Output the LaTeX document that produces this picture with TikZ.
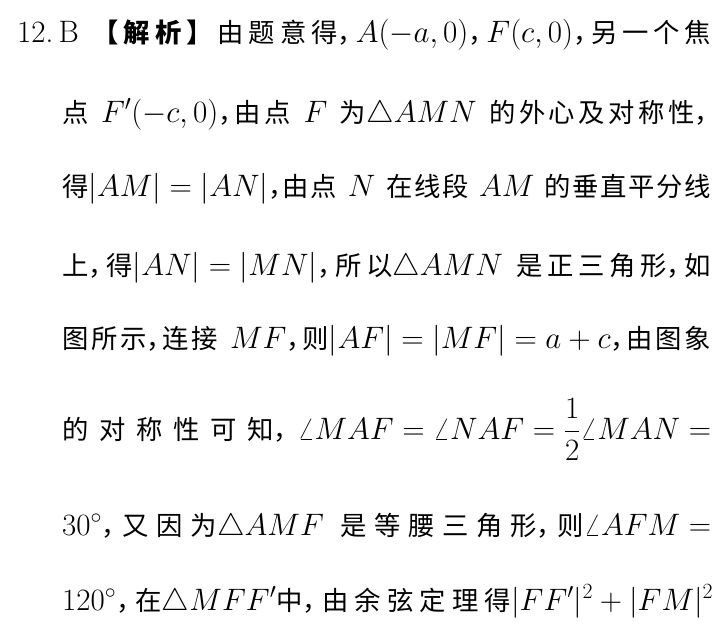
\RequirePackage{fix-cm}
\documentclass[tikz,border=0pt]{standalone}
\usepackage{fontspec}
\newfontfamily\cjk{Noto Sans CJK SC}[Scale=0.85]
\usetikzlibrary{positioning}

\tikzset{
  textline/.style={anchor=base west, inner sep=0pt,
                   font=\fontsize{31}{36}\selectfont\cjk},
}
% glue between Chinese characters, so that each line can be justified
\newskip\cjkskip
\cjkskip=0pt plus 1pt
\newskip\wordskip
\wordskip=9pt plus 1pt
\thickmuskip=5mu
\medmuskip=4mu
\def\gobbleone#1{}
\def\sprchar#1{#1\futurelet\sprnext\sprcheck}
\def\sprcheck{\ifx\sprnext\relax\expandafter\gobbleone\else\hskip\cjkskip\expandafter\sprchar\fi}
\newcommand{\spr}[1]{\sprchar#1\relax}
\newcommand{\fullline}[2]{\spaceskip\wordskip\makebox[#1][s]{#2}}
\newcommand{\dou}{\makebox[0.5em][l]{，}\hskip\cjkskip}

\begin{document}
\begin{tikzpicture}[x=1pt,y=-1pt]
\fill[white] (0,0) rectangle (723,640);
\useasboundingbox (0,0) rectangle (723,640);
\node[textline] (line1) at (17,42)  {\fullline{694pt}{{\rmfamily 12.\,B} \textbf{\spr{【解析】}}\hskip\cjkskip\spr{由题意得}\dou$A(-a,0)$\dou$F(c,0)$\dou\spr{另一个焦}}};
\node[textline] (line2) at (62,122) {\fullline{649pt}{\spr{点} $F'(-c,0)$\dou\spr{由点} $F$ \spr{为}$\triangle AMN$ \spr{的外心及对称性}\dou}};
\node[textline] (line3) at (62,196) {\fullline{649pt}{\spr{得}$|AM|=|AN|$\dou\spr{由点} $N$ \spr{在线段} $AM$ \spr{的垂直平分线}}};
\node[textline] (line4) at (62,275) {\fullline{649pt}{\spr{上}\dou\spr{得}$|AN|=|MN|$\dou\spr{所以}$\triangle AMN$ \spr{是正三角形}\dou\spr{如}}};
\node[textline] (line5) at (62,348) {\fullline{649pt}{\spr{图所示}\dou\spr{连接} $MF$\dou\spr{则}$|AF|=|MF|=a+c$\dou\spr{由图象}}};
\node[textline] (line6) at (62,439) {\fullline{649pt}{\spr{的对称性可知}\dou$\angle MAF=\angle NAF=\displaystyle\frac{1}{2}\angle MAN=$}};
\node[textline] (line7) at (62,535) {\fullline{649pt}{$30^\circ$\dou\spr{又因为}$\triangle AMF$ \spr{是等腰三角形}\dou\spr{则}$\angle AFM=$}};
\node[textline] (line8) at (62,610) {\fullline{651pt}{$120^\circ$\dou\spr{在}$\triangle MFF'$\spr{中}\dou\spr{由余弦定理得}$|FF'|^2+|FM|^2$}};
\end{tikzpicture}
\end{document}
